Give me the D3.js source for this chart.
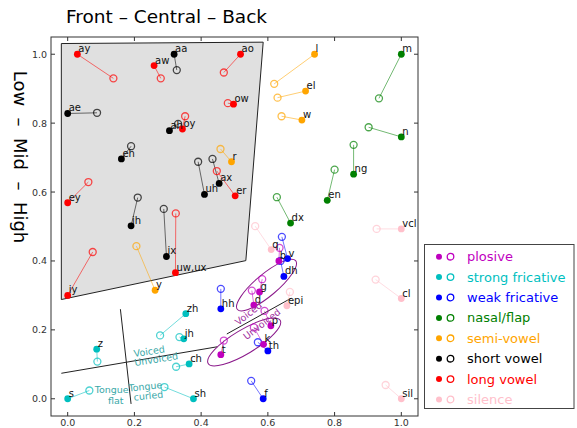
<!DOCTYPE html>
<meta charset="utf-8">
<head>
<script src="https://d3js.org/d3.v7.min.js"></script>
<style>
  body { margin: 0; background: #fff; }
  text { font-family: "DejaVu Sans", sans-serif; }
</style>
</head>
<body>
<div id="my_dataviz"></div>
<script>

// categories and their colours
var categories = ["plosive", "strong fricative", "weak fricative", "nasal/flap", "semi-vowel", "short vowel", "long vowel", "silence"];
var catColors  = ["#bf00bf", "#00bfbf", "#0000ff", "#008000", "#ffa500", "#000000", "#ff0000", "#ffc0cb"];

// phonemes, their category, and position of the filled / open marker
var phones = ["ay","aa","ao","aw","ae","ow","ah","oy","eh","r","ax","uh","er","ey","ih","ix","uw,ux","iy","y",
              "l","el","w","m","n","ng","en","dx","vcl","cl","q","v","b","dh","g","d","hh","epi","p","k","th","f","sil","t",
              "zh","jh","z","ch","s","sh"];
var phoneCat = ["long vowel","short vowel","long vowel","long vowel","short vowel","long vowel","short vowel","long vowel","short vowel","semi-vowel",
                "short vowel","short vowel","long vowel","long vowel","short vowel","short vowel","long vowel","long vowel","semi-vowel",
                "semi-vowel","semi-vowel","semi-vowel","nasal/flap","nasal/flap","nasal/flap","nasal/flap","nasal/flap","silence","silence","silence",
                "weak fricative","plosive","weak fricative","plosive","plosive","weak fricative","silence","plosive","plosive","weak fricative","weak fricative","silence","plosive",
                "strong fricative","strong fricative","strong fricative","strong fricative","strong fricative","strong fricative"];
var filledX = [0.029,0.319,0.518,0.259,0.0,0.497,0.305,0.344,0.161,0.491,0.454,0.41,0.502,0.0,0.19,0.296,0.323,0.0,0.262,
               0.74,0.713,0.702,1.0,1.0,0.857,0.778,0.668,1.0,1.0,0.61,0.659,0.633,0.648,0.575,0.558,0.459,0.657,0.609,0.587,0.6,0.586,1.0,0.459,
               0.354,0.348,0.087,0.364,0.0,0.377];
var filledY = [1.0,1.0,1.0,0.967,0.828,0.855,0.778,0.783,0.696,0.688,0.625,0.593,0.589,0.569,0.502,0.413,0.366,0.30,0.315,
               1.0,0.893,0.809,1.0,0.76,0.652,0.576,0.51,0.493,0.291,0.433,0.407,0.40,0.355,0.31,0.272,0.261,0.27,0.212,0.158,0.139,0.0,0.0,0.128,
               0.247,0.174,0.144,0.101,0.0,0.0];
var openX   = [0.137,0.327,0.468,0.279,0.088,0.48,0.331,0.352,0.19,0.458,0.434,0.391,0.447,0.062,0.21,0.288,0.324,0.075,0.206,
               0.619,0.629,0.641,0.933,0.902,0.857,0.8,0.627,0.926,0.923,0.562,0.642,0.635,0.638,0.583,0.552,0.459,0.666,0.59,0.558,0.57,0.55,0.953,0.468,
               0.277,0.335,0.089,0.325,0.065,0.29];
var openY   = [0.93,0.954,0.947,0.93,0.83,0.858,0.798,0.82,0.733,0.725,0.696,0.688,0.661,0.629,0.584,0.551,0.538,0.426,0.443,
               0.914,0.874,0.82,0.872,0.788,0.737,0.665,0.585,0.493,0.346,0.501,0.47,0.438,0.40,0.347,0.314,0.319,0.31,0.255,0.207,0.164,0.052,0.04,0.169,
               0.184,0.179,0.108,0.093,0.024,0.034];

// tick values
var ticks = [0.0, 0.2, 0.4, 0.6, 0.8, 1.0];

// vowel region (grey quadrilateral), in data units
var vowelX = [-0.019, 0.586, 0.534, -0.019];
var vowelY = [1.031, 1.035, 0.401, 0.288];

var margin = {top: 37, left: 51},
    width = 367, height = 379;

var svg = d3.select("#my_dataviz")
  .append("svg")
    .attr("width", 577)
    .attr("height", 428);

var x = d3.scaleLinear().domain([-0.05, 1.05]).range([margin.left, margin.left + width]);
var y = d3.scaleLinear().domain([-0.05, 1.05]).range([margin.top + height, margin.top]);
var color = d3.scaleOrdinal().domain(categories).range(catColors);

// grey vowel area
svg.append("polygon")
  .attr("points", vowelX.map(function(v, i){ return x(v) + "," + y(vowelY[i]); }).join(" "))
  .attr("fill", "#e0e0e0")
  .attr("stroke", "#222")
  .attr("stroke-width", 1);

// black separating lines
function seg(x1, y1, x2, y2) {
  svg.append("line")
    .attr("x1", x(x1)).attr("y1", y(y1)).attr("x2", x(x2)).attr("y2", y(y2))
    .attr("stroke", "#222").attr("stroke-width", 1);
}
seg(-0.019, 0.074, 0.449, 0.151);   // voiced / unvoiced (strong fricatives)
seg(0.158, 0.26, 0.19, -0.015);     // tongue flat / curled
seg(0.477, 0.188, 0.67, 0.292);     // voiced / unvoiced (plosives)

// purple ellipses round the plosives
function ell(cx, cy, rx, ry, ang) {
  svg.append("ellipse")
    .attr("transform", "translate(" + x(cx) + "," + y(cy) + ") rotate(" + ang + ")")
    .attr("rx", rx).attr("ry", ry)
    .attr("fill", "none").attr("stroke", "#8b1a8b").attr("stroke-width", 1);
}
ell(0.596, 0.33, 38, 11, -40);
ell(0.529, 0.165, 42, 12, -31);

var idx = d3.range(phones.length);

// connecting lines
svg.selectAll(".link")
  .data(idx).enter()
  .append("line")
    .attr("x1", function(i){ return x(filledX[i]); })
    .attr("y1", function(i){ return y(filledY[i]); })
    .attr("x2", function(i){ return x(openX[i]); })
    .attr("y2", function(i){ return y(openY[i]); })
    .attr("stroke", function(i){ return color(phoneCat[i]); })
    .attr("stroke-opacity", 0.55)
    .attr("stroke-width", 1);

// open circles
svg.selectAll(".open")
  .data(idx).enter()
  .append("circle")
    .attr("cx", function(i){ return x(openX[i]); })
    .attr("cy", function(i){ return y(openY[i]); })
    .attr("r", 3.5)
    .attr("fill", "none")
    .attr("stroke", function(i){ return color(phoneCat[i]); })
    .attr("stroke-opacity", 0.7)
    .attr("stroke-width", 1.3);

// filled points
svg.selectAll(".filled")
  .data(idx).enter()
  .append("circle")
    .attr("cx", function(i){ return x(filledX[i]); })
    .attr("cy", function(i){ return y(filledY[i]); })
    .attr("r", 3.4)
    .attr("fill", function(i){ return color(phoneCat[i]); });

// phoneme labels
svg.selectAll(".lab")
  .data(idx).enter()
  .append("text")
    .attr("x", function(i){ return x(filledX[i]) + 1; })
    .attr("y", function(i){ return y(filledY[i]) - 2; })
    .text(function(i){ return phones[i]; })
    .attr("font-size", "10px")
    .attr("fill", "#111");

// annotation texts
function note(txt, px, py, ang, col, size) {
  svg.append("text")
    .attr("transform", "translate(" + px + "," + py + ") rotate(" + ang + ")")
    .attr("text-anchor", "middle")
    .attr("font-size", size)
    .attr("fill", col)
    .text(txt);
}
var teal = "#3aa8a8", purp = "#a030a0";
note("Voiced", x(0.246), y(0.128), -9, teal, "9.5px");
note("Unvoiced", x(0.267), y(0.105), -9, teal, "9.5px");
note("Tongue", x(0.132), y(0.017), 0, teal, "9.5px");
note("flat", x(0.144), y(-0.014), 0, teal, "9.5px");
note("Tongue", x(0.234), y(0.026), -6, teal, "9.5px");
note("curled", x(0.243), y(-0.001), -6, teal, "9.5px");
note("Voiced", x(0.548), y(0.24), -38, purp, "9.5px");
note("Unvoiced", x(0.588), y(0.209), -38, purp, "9.5px");

// frame and ticks
svg.append("rect")
  .attr("x", margin.left).attr("y", margin.top)
  .attr("width", width).attr("height", height)
  .attr("fill", "none").attr("stroke", "#333").attr("stroke-width", 1);

ticks.forEach(function(t){
  svg.append("line").attr("x1", x(t)).attr("x2", x(t)).attr("y1", margin.top + height).attr("y2", margin.top + height - 4).attr("stroke", "#333");
  svg.append("line").attr("x1", x(t)).attr("x2", x(t)).attr("y1", margin.top).attr("y2", margin.top + 4).attr("stroke", "#333");
  svg.append("line").attr("y1", y(t)).attr("y2", y(t)).attr("x1", margin.left).attr("x2", margin.left + 4).attr("stroke", "#333");
  svg.append("line").attr("y1", y(t)).attr("y2", y(t)).attr("x1", margin.left + width).attr("x2", margin.left + width - 4).attr("stroke", "#333");
  svg.append("text").attr("x", x(t)).attr("y", 426).attr("text-anchor", "middle")
    .attr("font-size", "9.5px").attr("fill", "#333").text(t.toFixed(1));
  svg.append("text").attr("x", margin.left - 4).attr("y", y(t) + 3.5).attr("text-anchor", "end")
    .attr("font-size", "9.5px").attr("fill", "#333").text(t.toFixed(1));
});

// title and y label
svg.append("text")
  .attr("x", 66).attr("y", 23)
  .text("Front \u2013 Central \u2013 Back")
  .attr("font-family", "Liberation Sans, Arial, sans-serif")
  .attr("font-size", "18.5px")
  .attr("fill", "#000");

svg.append("text")
  .attr("transform", "translate(14,157) rotate(90)")
  .attr("text-anchor", "middle")
  .attr("xml:space", "preserve")
  .style("white-space", "pre")
  .attr("font-family", "Liberation Sans, Arial, sans-serif")
  .attr("font-size", "18px")
  .attr("fill", "#000")
  .text("Low  \u2013  Mid  \u2013  High");

// legend
var lg = svg.append("g");
lg.append("rect")
  .attr("x", 424.5).attr("y", 244.5).attr("width", 149.5).attr("height", 164)
  .attr("fill", "#fff").attr("stroke", "#444").attr("stroke-width", 1);

var items = lg.selectAll(".item")
  .data(categories).enter()
  .append("g")
    .attr("transform", function(d, i){ return "translate(0," + (256.7 + i * 20.4) + ")"; });
items.append("circle").attr("cx", 439).attr("cy", 0).attr("r", 3)
  .attr("fill", function(d){ return color(d); });
items.append("circle").attr("cx", 450.5).attr("cy", 0).attr("r", 3.3)
  .attr("fill", "none").attr("stroke-width", 1.3)
  .attr("stroke", function(d){ return color(d); });
items.append("text").attr("x", 467).attr("y", 4.5)
  .attr("font-size", "13px")
  .attr("fill", function(d){ return color(d); })
  .text(function(d){ return d; });

</script>
</body>
